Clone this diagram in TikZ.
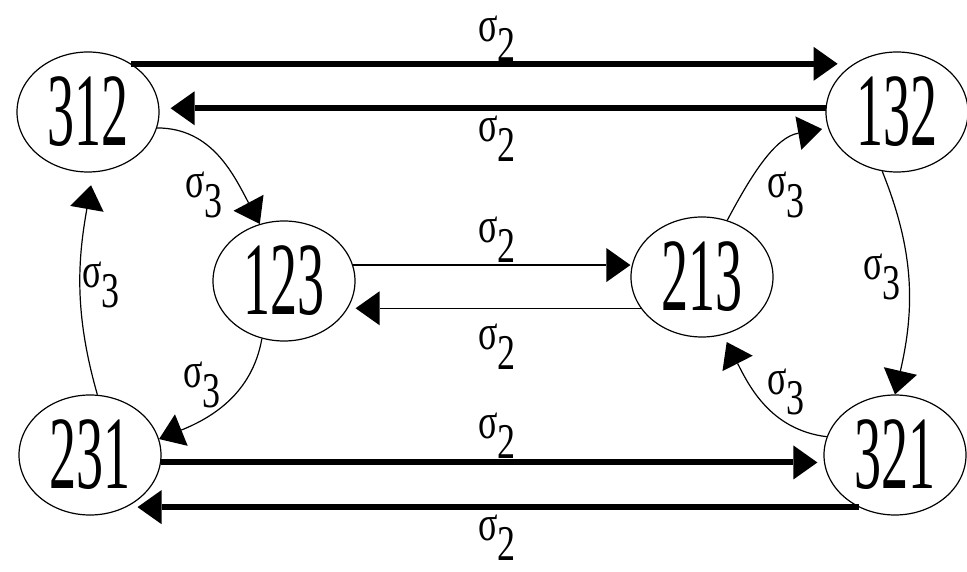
\documentclass[tikz,border=0pt]{standalone}
\usepackage{fontspec}
\newfontfamily\statefont[FakeStretch=0.52]{Liberation Serif}
\newfontfamily\labelfont[FakeStretch=0.72]{Liberation Serif}
\usetikzlibrary{shapes.geometric, arrows.meta}
\newcommand{\sig}[1]{σ\raisebox{-20pt}{#1}}

\begin{document}
\begin{tikzpicture}[x=1pt, y=1pt,
    state/.style={ellipse, draw, line width=1.2pt, minimum width=142pt, minimum height=120pt,
        inner sep=0pt, font=\statefont\fontsize{104}{104}\selectfont},
    lbl/.style={anchor=base west, inner sep=0pt, font=\labelfont\fontsize{50}{50}\selectfont},
    bigarrow/.style={line width=6pt, -{Triangle[length=24pt,width=34pt,line width=0pt]}},
    thinarrow/.style={line width=1.2pt, -{Triangle[length=24pt,width=34pt,line width=0pt]}}]
    \useasboundingbox (0,0) rectangle (967,571);

    % Permutation states
    \node[state] (n312) at (88,459) {312};
    \node[state] (n132) at (897,459) {132};
    \node[state] (n123) at (284,290) {123};
    \node[state] (n213) at (702,294) {213};
    \node[state] (n231) at (90,116) {231};
    \node[state] (n321) at (895,116) {321};

    % sigma_2 transitions
    \draw[bigarrow, shorten >=16pt] (n312.48) -- (n312.48 -| n132.132);
    \draw[bigarrow, shorten >=11pt] (n132.177) -- (n132.177 -| n312.east);
    \draw[thinarrow] (n123.13) -- (n123.13 -| n213.west);
    \draw[thinarrow] (n213.207) -- (n213.207 -| n123.east);
    \draw[bigarrow, shorten >=6pt] (n231.-6) -- (n231.-6 -| n321.west);
    \draw[bigarrow, shorten >=11pt] (n321.235) -- (n321.235 -| n231.-55);

    % sigma_3 transitions
    \draw[thinarrow] (n312.-13) to[out=0, in=118] (n123.113);
    \draw[thinarrow] (n123.249) to[out=-100, in=22] (n231.13);
    \draw[thinarrow, shorten >=13pt] (n231.83) to[out=106, in=-100] (n312.-85);
    \draw[thinarrow, shorten >=6pt] (n213.66) to[out=62, in=190] (n132.193);
    \draw[thinarrow] (n132.256) to[out=-68, in=77] (n321.north);
    \draw[thinarrow, shorten >=8pt] (n321.165) to[out=173, in=-63] (n213.-70);

    % Labels
    \node[lbl] (s1) at (478,529) {\sig{2}};
    \node[lbl] (s2) at (478,429) {\sig{2}};
    \node[lbl] (s3) at (185,373) {\sig{3}};
    \node[lbl] (s4) at (82,283) {\sig{3}};
    \node[lbl] (s5) at (478,328) {\sig{2}};
    \node[lbl] (s6) at (478,221) {\sig{2}};
    \node[lbl] (s7) at (183,183) {\sig{3}};
    \node[lbl] (s8) at (767,373) {\sig{3}};
    \node[lbl] (s9) at (863,291) {\sig{3}};
    \node[lbl] (s10) at (767,176) {\sig{3}};
    \node[lbl] (s11) at (478,132) {\sig{2}};
    \node[lbl] (s12) at (478,31) {\sig{2}};
\end{tikzpicture}
\end{document}
